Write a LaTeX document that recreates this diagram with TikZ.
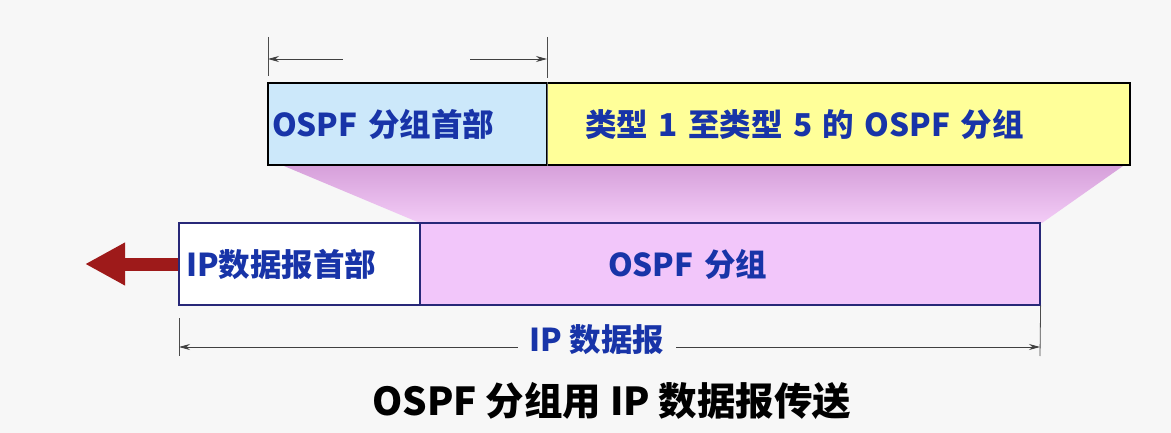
\documentclass[tikz,border=0pt]{standalone}
\usepackage{fontspec}
\setmainfont{Noto Sans CJK SC}
\usepackage{tikz}
\usetikzlibrary{arrows.meta,calc,positioning}
\definecolor{labelblue}{RGB}{24,52,168}
\definecolor{hdrblue}{RGB}{204,232,250}
\definecolor{bodyyellow}{RGB}{255,255,153}
\definecolor{ospfpink}{RGB}{242,198,250}
\definecolor{fanpinktop}{RGB}{214,160,218}
\definecolor{fanpinkbot}{RGB}{243,204,247}
\definecolor{framenavy}{RGB}{40,40,120}
\definecolor{arrowred}{RGB}{158,26,26}
\definecolor{bggray}{RGB}{247,247,247}

\tikzset{
  field/.style={draw, minimum height=82pt, inner ysep=0pt, align=left,
    font=\fontsize{31.5}{36}\selectfont\bfseries, text=labelblue},
  dimline/.style={draw=black!75, line width=0.8pt},
  dimtick/.style={draw=black!70, line width=0.8pt},
}

\begin{document}
\begin{tikzpicture}[x=1pt, y=-1pt]
\fill[bggray] (0,0) rectangle (1171,433);
%--- fan between the two frames ---
\shade[top color=fanpinktop, bottom color=fanpinkbot]
  (284,166) -- (1123,166) -- (1042,223) -- (420,223) -- cycle;
%--- OSPF packet ---
\node[field, fill=hdrblue, line width=1.6pt, minimum width=279pt,
  inner xsep=4pt, text width=271pt] (ospfhdr) at (407.5,124) {OSPF 分组首部};
\node[field, fill=bodyyellow, line width=1.6pt, minimum width=583pt,
  inner xsep=38pt, text width=507pt] (ospfbody) at (838.5,124) {类型 1 至类型 5 的 OSPF 分组};
\draw[draw=black!60, line width=0.8pt] (ospfhdr.north east) -- (ospfhdr.south east);
%--- IP datagram ---
\node[field, draw=framenavy, fill=white, line width=1.2pt, minimum width=241pt,
  inner xsep=7pt, text width=227pt] (iphdr) at (299.5,264) {IP数据报首部};
\node[field, draw=framenavy, fill=ospfpink, line width=1.2pt, minimum width=620pt,
  inner xsep=188pt, text width=244pt] (ipdata) at (730,264) {OSPF 分组};
% sending direction
\coordinate (sendtip) at (85,264);
\draw[arrowred, line width=13pt, -{Triangle[length=40pt, width=40pt]}]
  (iphdr.west) -- (sendtip);
%--- dimension above the OSPF header ---
\coordinate (hdrtickL) at (268,37);
\coordinate (hdrtickR) at (547,37);
\draw[dimtick] (hdrtickL) -- ++(0,39);
\draw[dimtick] (hdrtickR) -- ++(0,41);
\draw[dimline, {Stealth[length=11pt, width=6pt]}-] ($(hdrtickL)+(0,22)$) -- ++(75,0);
\draw[dimline, -{Stealth[length=11pt, width=6pt]}] ($(hdrtickR)+(-77,22)$) -- ++(77,0);
%--- dimension below the IP datagram ---
\node[font=\fontsize{31.5}{36}\selectfont\bfseries, text=labelblue, inner xsep=12pt]
  (iplen) at (597,340) {IP 数据报};
\coordinate (iptickL) at (179,347);
\coordinate (iptickR) at (1040,347);
\draw[dimtick] (179,318) -- (179,356);
\draw[dimtick] (ipdata.south east) -- (1040,356);
\draw[dimline, {Stealth[length=11pt, width=6pt]}-] (iptickL) -- (iplen.west |- iptickL);
\draw[dimline, -{Stealth[length=11pt, width=6pt]}] (iplen.east |- iptickR) -- (iptickR);
%--- caption ---
\node[font=\fontsize{38.5}{42}\selectfont\bfseries, text=black] (caption) at (612,401)
  {OSPF 分组用 IP 数据报传送};
\end{tikzpicture}
\end{document}
